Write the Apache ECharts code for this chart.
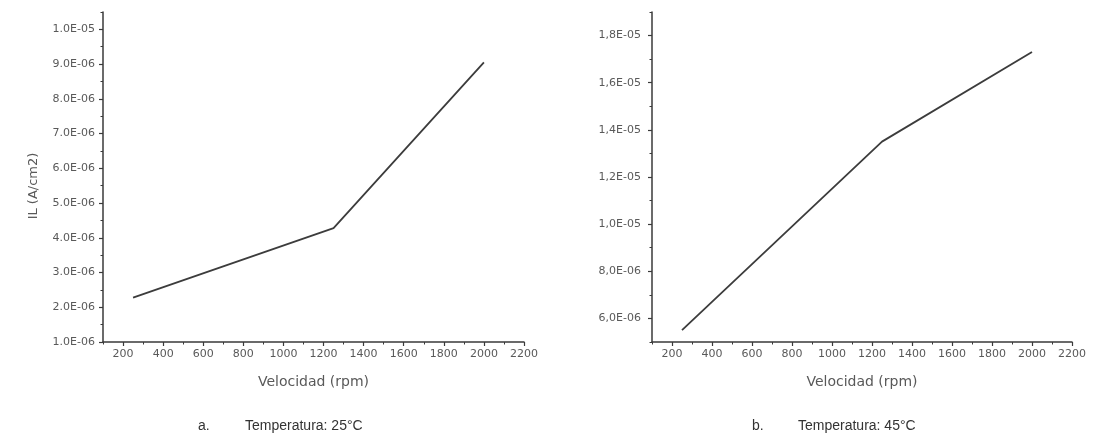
<!DOCTYPE html>
<html>
<head>
<meta charset="utf-8">
<script src="https://cdn.jsdelivr.net/npm/echarts@6/dist/echarts.min.js"></script>
<style>
  html, body { margin: 0; padding: 0; background: #fff; }
  #chart { width: 1096px; height: 438px; }
</style>
</head>
<body>
<div id="chart"></div>
<script>
// Rotation speed (rpm) of the electrode
const speeds = [250, 1250, 2000];
// Limiting current density IL (A/cm2)
const il25 = [2.28e-6, 4.28e-6, 9.05e-6];
const il45 = [5.5e-6, 1.35e-5, 1.73e-5];

// Tick values and labels
const xTicks = [200, 400, 600, 800, 1000, 1200, 1400, 1600, 1800, 2000, 2200];
const yTicks25 = [1e-6, 2e-6, 3e-6, 4e-6, 5e-6, 6e-6, 7e-6, 8e-6, 9e-6, 1e-5];
const yLabels25 = ['1.0E-06', '2.0E-06', '3.0E-06', '4.0E-06', '5.0E-06',
                   '6.0E-06', '7.0E-06', '8.0E-06', '9.0E-06', '1.0E-05'];
const yTicks45 = [6e-6, 8e-6, 1e-5, 1.2e-5, 1.4e-5, 1.6e-5, 1.8e-5];
const yLabels45 = ['6,0E-06', '8,0E-06', '1,0E-05', '1,2E-05', '1,4E-05', '1,6E-05', '1,8E-05'];

const xTitle = 'Velocidad (rpm)';
const yTitle = 'IL (A/cm2)';
const captions = [['a.', 'Temperatura: 25°C'], ['b.', 'Temperatura: 45°C']];

const AXIS_FONT = '"DejaVu Sans", Verdana, sans-serif';
const CAPTION_FONT = '"Liberation Sans", Arial, sans-serif';
const AXIS_COLOR = '#3a3a3a';
const TEXT_COLOR = '#595959';

function labelFor(ticks, labels) {
  return function (v) {
    for (let i = 0; i < ticks.length; i++) {
      if (Math.abs(ticks[i] - v) < 1e-9) return labels[i];
    }
    return '';
  };
}

const grids = [
  { left: 103, top: 12, width: 421, height: 330 },
  { left: 652, top: 12, width: 420, height: 330 }
];

function mainX(gridIndex) {
  return {
    type: 'value', gridIndex, position: 'bottom', min: 100, max: 2200, interval: 100,
    name: xTitle, nameLocation: 'middle', nameGap: 33,
    nameTextStyle: { color: TEXT_COLOR, fontFamily: AXIS_FONT, fontSize: 14 },
    axisLine: { show: true, lineStyle: { color: AXIS_COLOR, width: 1.5 } },
    axisTick: { show: true, length: 4, customValues: xTicks, lineStyle: { color: AXIS_COLOR, width: 1.2 } },
    axisLabel: { show: true, customValues: xTicks, formatter: v => String(v),
                 color: TEXT_COLOR, fontFamily: AXIS_FONT, fontSize: 11, margin: 7 },
    splitLine: { show: false }
  };
}
function minorX(gridIndex) {
  return {
    type: 'value', gridIndex, position: 'bottom', offset: 0, min: 100, max: 2200, interval: 100,
    axisLine: { show: false },
    axisTick: { show: true, length: 2.5, lineStyle: { color: AXIS_COLOR, width: 1 } },
    axisLabel: { show: false }, splitLine: { show: false }
  };
}
function mainY(gridIndex, min, max, step, ticks, labels, margin) {
  return {
    type: 'value', gridIndex, min, max, interval: step, position: 'left',
    axisLine: { show: true, lineStyle: { color: AXIS_COLOR, width: 1.5 } },
    axisTick: { show: true, length: 4, customValues: ticks, lineStyle: { color: AXIS_COLOR, width: 1.2 } },
    axisLabel: { show: true, customValues: ticks, formatter: labelFor(ticks, labels),
                 color: TEXT_COLOR, fontFamily: AXIS_FONT, fontSize: 11, margin },
    splitLine: { show: false }
  };
}
function minorY(gridIndex, min, max, step) {
  return {
    type: 'value', gridIndex, min, max, interval: step, position: 'left', offset: 0,
    axisLine: { show: false },
    axisTick: { show: true, length: 2.5, lineStyle: { color: AXIS_COLOR, width: 1 } },
    axisLabel: { show: false }, splitLine: { show: false }
  };
}

const chart = echarts.init(document.getElementById('chart'), null, { renderer: 'canvas' });

chart.setOption({
  animation: false,
  backgroundColor: '#fff',
  grid: grids,
  xAxis: [mainX(0), mainX(1), minorX(0), minorX(1)],
  yAxis: [
    mainY(0, 1e-6, 1.05e-5, 5e-7, yTicks25, yLabels25, 8),
    mainY(1, 5e-6, 1.9e-5, 1e-6, yTicks45, yLabels45, 11),
    minorY(0, 1e-6, 1.05e-5, 5e-7),
    minorY(1, 5e-6, 1.9e-5, 1e-6)
  ],
  series: [
    {
      type: 'line', xAxisIndex: 0, yAxisIndex: 0, symbol: 'none',
      lineStyle: { color: '#3c3c3c', width: 1.8 },
      data: speeds.map((s, i) => [s, il25[i]])
    },
    {
      type: 'line', xAxisIndex: 1, yAxisIndex: 1, symbol: 'none',
      lineStyle: { color: '#3c3c3c', width: 1.8 },
      data: speeds.map((s, i) => [s, il45[i]])
    }
  ],
  graphic: [
    { type: 'text', x: 34, y: 186, rotation: Math.PI / 2,
      style: { text: yTitle, font: '13px ' + AXIS_FONT, fill: TEXT_COLOR, align: 'center', verticalAlign: 'middle' } },
    { type: 'text', left: 198, top: 419, style: { text: captions[0][0], font: '14px ' + CAPTION_FONT, fill: '#333' } },
    { type: 'text', left: 245, top: 419, style: { text: captions[0][1], font: '14px ' + CAPTION_FONT, fill: '#333' } },
    { type: 'text', left: 752, top: 419, style: { text: captions[1][0], font: '14px ' + CAPTION_FONT, fill: '#333' } },
    { type: 'text', left: 798, top: 419, style: { text: captions[1][1], font: '14px ' + CAPTION_FONT, fill: '#333' } }
  ]
});
</script>
</body>
</html>
